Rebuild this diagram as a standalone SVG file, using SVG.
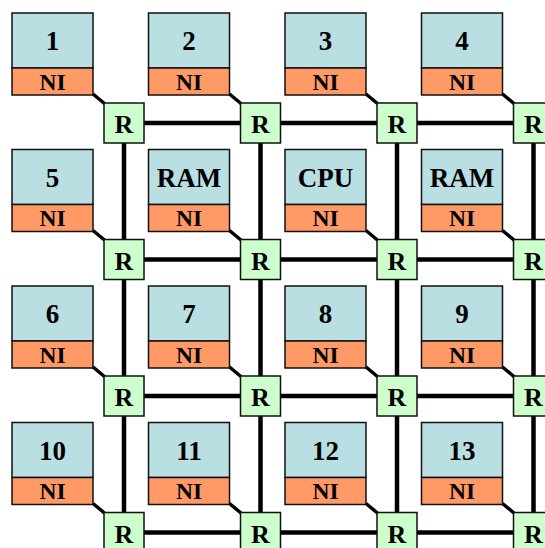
<svg xmlns="http://www.w3.org/2000/svg" width="545" height="548" viewBox="0 0 545 548">
<style>
.core{fill:#b9dfe2;stroke:#111;stroke-width:1.5}
.ni{fill:#ff9966;stroke:#111;stroke-width:1.5}
.r{fill:#ccffcc;stroke:#111;stroke-width:1.5}
.link{stroke:#000;stroke-width:4.5;fill:none}
.nil{stroke:#000;stroke-width:3.5;fill:none}
</style>
<g id="connectors">
<line class="link" x1="144" y1="123" x2="240.5" y2="123"/>
<line class="link" x1="280.5" y1="123" x2="377" y2="123"/>
<line class="link" x1="417" y1="123" x2="513.5" y2="123"/>
<line class="link" x1="144" y1="259.5" x2="240.5" y2="259.5"/>
<line class="link" x1="280.5" y1="259.5" x2="377" y2="259.5"/>
<line class="link" x1="417" y1="259.5" x2="513.5" y2="259.5"/>
<line class="link" x1="144" y1="396" x2="240.5" y2="396"/>
<line class="link" x1="280.5" y1="396" x2="377" y2="396"/>
<line class="link" x1="417" y1="396" x2="513.5" y2="396"/>
<line class="link" x1="144" y1="532.5" x2="240.5" y2="532.5"/>
<line class="link" x1="280.5" y1="532.5" x2="377" y2="532.5"/>
<line class="link" x1="417" y1="532.5" x2="513.5" y2="532.5"/>
<line class="link" x1="124" y1="143" x2="124" y2="239.5"/>
<line class="link" x1="124" y1="279.5" x2="124" y2="376"/>
<line class="link" x1="124" y1="416" x2="124" y2="512.5"/>
<line class="link" x1="260.5" y1="143" x2="260.5" y2="239.5"/>
<line class="link" x1="260.5" y1="279.5" x2="260.5" y2="376"/>
<line class="link" x1="260.5" y1="416" x2="260.5" y2="512.5"/>
<line class="link" x1="397" y1="143" x2="397" y2="239.5"/>
<line class="link" x1="397" y1="279.5" x2="397" y2="376"/>
<line class="link" x1="397" y1="416" x2="397" y2="512.5"/>
<line class="link" x1="533.5" y1="143" x2="533.5" y2="239.5"/>
<line class="link" x1="533.5" y1="279.5" x2="533.5" y2="376"/>
<line class="link" x1="533.5" y1="416" x2="533.5" y2="512.5"/>
<line class="nil" x1="93" y1="94" x2="105" y2="104"/>
<line class="nil" x1="229.5" y1="94" x2="241.5" y2="104"/>
<line class="nil" x1="366" y1="94" x2="378" y2="104"/>
<line class="nil" x1="502.5" y1="94" x2="514.5" y2="104"/>
<line class="nil" x1="93" y1="230.5" x2="105" y2="240.5"/>
<line class="nil" x1="229.5" y1="230.5" x2="241.5" y2="240.5"/>
<line class="nil" x1="366" y1="230.5" x2="378" y2="240.5"/>
<line class="nil" x1="502.5" y1="230.5" x2="514.5" y2="240.5"/>
<line class="nil" x1="93" y1="367" x2="105" y2="377"/>
<line class="nil" x1="229.5" y1="367" x2="241.5" y2="377"/>
<line class="nil" x1="366" y1="367" x2="378" y2="377"/>
<line class="nil" x1="502.5" y1="367" x2="514.5" y2="377"/>
<line class="nil" x1="93" y1="503.5" x2="105" y2="513.5"/>
<line class="nil" x1="229.5" y1="503.5" x2="241.5" y2="513.5"/>
<line class="nil" x1="366" y1="503.5" x2="378" y2="513.5"/>
<line class="nil" x1="502.5" y1="503.5" x2="514.5" y2="513.5"/>
</g>
<defs>
<g id="nodeShape">
<rect class="core" x="0" y="0" width="81" height="55"/>
<rect class="ni" x="0" y="55" width="81" height="27"/>
<text x="40.5" y="76.5" font-family="'Liberation Serif','Times New Roman',Times,'DejaVu Serif',serif" font-weight="bold" font-size="23.5" text-anchor="middle" fill="#000">NI</text>
</g>
<g id="routerShape">
<rect class="r" x="0" y="0" width="40" height="40"/>
<text x="20" y="30" font-family="'Liberation Serif','Times New Roman',Times,'DejaVu Serif',serif" font-weight="bold" font-size="26" text-anchor="middle" fill="#000">R</text>
</g>
</defs>
<g font-family="'Liberation Serif','Times New Roman',Times,'DejaVu Serif',serif" font-weight="bold" font-size="27" text-anchor="middle" fill="#000">
<g id="node1" transform="translate(12,13)"><use href="#nodeShape"/><text x="40.5" y="37">1</text></g>
<g id="node2" transform="translate(148.5,13)"><use href="#nodeShape"/><text x="40.5" y="37">2</text></g>
<g id="node3" transform="translate(285,13)"><use href="#nodeShape"/><text x="40.5" y="37">3</text></g>
<g id="node4" transform="translate(421.5,13)"><use href="#nodeShape"/><text x="40.5" y="37">4</text></g>
<g id="node5" transform="translate(12,149.5)"><use href="#nodeShape"/><text x="40.5" y="37">5</text></g>
<g id="ram1" transform="translate(148.5,149.5)"><use href="#nodeShape"/><text x="40.5" y="37">RAM</text></g>
<g id="cpu" transform="translate(285,149.5)"><use href="#nodeShape"/><text x="40.5" y="37">CPU</text></g>
<g id="ram2" transform="translate(421.5,149.5)"><use href="#nodeShape"/><text x="40.5" y="37">RAM</text></g>
<g id="node6" transform="translate(12,286)"><use href="#nodeShape"/><text x="40.5" y="37">6</text></g>
<g id="node7" transform="translate(148.5,286)"><use href="#nodeShape"/><text x="40.5" y="37">7</text></g>
<g id="node8" transform="translate(285,286)"><use href="#nodeShape"/><text x="40.5" y="37">8</text></g>
<g id="node9" transform="translate(421.5,286)"><use href="#nodeShape"/><text x="40.5" y="37">9</text></g>
<g id="node10" transform="translate(12,422.5)"><use href="#nodeShape"/><text x="40.5" y="37">10</text></g>
<g id="node11" transform="translate(148.5,422.5)"><use href="#nodeShape"/><text x="40.5" y="37">11</text></g>
<g id="node12" transform="translate(285,422.5)"><use href="#nodeShape"/><text x="40.5" y="37">12</text></g>
<g id="node13" transform="translate(421.5,422.5)"><use href="#nodeShape"/><text x="40.5" y="37">13</text></g>
</g>
<g id="r11" transform="translate(104,103)"><use href="#routerShape"/></g>
<g id="r12" transform="translate(240.5,103)"><use href="#routerShape"/></g>
<g id="r13" transform="translate(377,103)"><use href="#routerShape"/></g>
<g id="r14" transform="translate(513.5,103)"><use href="#routerShape"/></g>
<g id="r21" transform="translate(104,239.5)"><use href="#routerShape"/></g>
<g id="r22" transform="translate(240.5,239.5)"><use href="#routerShape"/></g>
<g id="r23" transform="translate(377,239.5)"><use href="#routerShape"/></g>
<g id="r24" transform="translate(513.5,239.5)"><use href="#routerShape"/></g>
<g id="r31" transform="translate(104,376)"><use href="#routerShape"/></g>
<g id="r32" transform="translate(240.5,376)"><use href="#routerShape"/></g>
<g id="r33" transform="translate(377,376)"><use href="#routerShape"/></g>
<g id="r34" transform="translate(513.5,376)"><use href="#routerShape"/></g>
<g id="r41" transform="translate(104,512.5)"><use href="#routerShape"/></g>
<g id="r42" transform="translate(240.5,512.5)"><use href="#routerShape"/></g>
<g id="r43" transform="translate(377,512.5)"><use href="#routerShape"/></g>
<g id="r44" transform="translate(513.5,512.5)"><use href="#routerShape"/></g>
</svg>
